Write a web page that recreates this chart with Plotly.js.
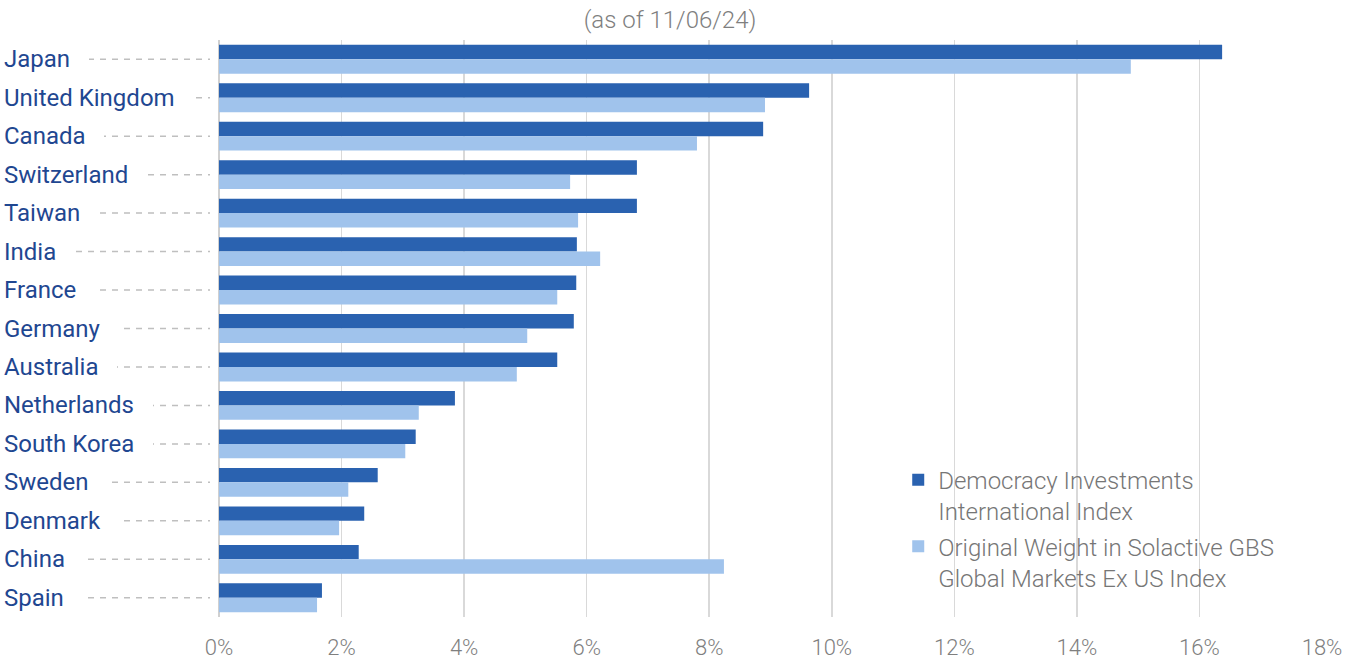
<!DOCTYPE html>
<html>
<head>
<meta charset="utf-8">
<script src="https://cdn.plot.ly/plotly-3.0.1.min.js"></script>
<style>html,body{margin:0;padding:0;background:#fff;}#chart{width:1359px;height:661px;}</style>
</head>
<body>
<div id="chart"></div>
<script>
const countries = ["Japan","United Kingdom","Canada","Switzerland","Taiwan","India","France","Germany","Australia","Netherlands","South Korea","Sweden","Denmark","China","Spain"];
const democracyWeights = [16.37,9.63,8.88,6.82,6.82,5.84,5.83,5.79,5.52,3.85,3.21,2.59,2.37,2.28,1.68];
const solactiveWeights = [14.88,8.91,7.80,5.73,5.86,6.22,5.52,5.03,4.86,3.26,3.04,2.11,1.96,8.24,1.60];
const seriesNames = ["Democracy Investments<br>International Index","Original Weight in Solactive GBS<br>Global Markets Ex US Index"];
const xTicks = [0,2,4,6,8,10,12,14,16,18];
const xTickLabels = xTicks.map(v => v + "%");
const subtitle = "(as of 11/06/24)";

const ML = 219, MR = 37, W = 1359;
const plotW = W - ML - MR;
const labelLeftPx = 4, leaderEndPx = 210;
const NB = "\u00a0";

const traces = [
  {type:"bar", orientation:"h", name:seriesNames[0], legendgroup:"a", y:countries, x:democracyWeights,
   marker:{color:"#2a62b0"}, hoverinfo:"x+y"},
  {type:"bar", orientation:"h", name:seriesNames[1], legendgroup:"b", y:countries, x:solactiveWeights,
   marker:{color:"#a0c3ec"}, hoverinfo:"x+y"}
];

const annotations = countries.map(c => ({
  xref:"paper", yref:"y", x:(labelLeftPx - 1 - ML)/plotW, y:c, xanchor:"left", yanchor:"middle",
  text:c + NB + NB + NB, showarrow:false, bgcolor:"#ffffff", borderpad:1, borderwidth:0,
  font:{family:"Roboto", size:24, color:"#1f4791"}
}));
const shapes = countries.map(c => ({
  type:"line", xref:"paper", yref:"y", x0:(labelLeftPx - ML)/plotW, x1:(leaderEndPx - ML)/plotW, y0:c, y1:c,
  line:{color:"#bfbfbf", width:1.5, dash:"6px,6px"}
}));

const layout = {
  width:1359, height:661,
  margin:{l:ML, r:MR, t:40, b:44},
  paper_bgcolor:"#ffffff", plot_bgcolor:"#ffffff",
  title:{text:subtitle, x:0.493, xref:"container", xanchor:"center", y:0.97, yref:"container", yanchor:"middle",
         font:{family:"Roboto", weight:300, size:24, color:"#7f7f7f"}},
  barmode:"group", bargap:0.25, bargroupgap:0,
  xaxis:{range:[0,18], tickvals:xTicks, ticktext:xTickLabels, showgrid:true, gridcolor:"#d9d9d9", gridwidth:1.5,
         zeroline:true, zerolinecolor:"#d0d0d0", zerolinewidth:2, ticks:"outside", ticklen:11, tickcolor:"rgba(0,0,0,0)", automargin:false,
         tickfont:{family:"Roboto", weight:300, size:22, color:"#7f7f7f"}, fixedrange:true},
  yaxis:{type:"category", autorange:"reversed", showticklabels:false, showgrid:false, zeroline:false, ticks:"", automargin:false, fixedrange:true},
  legend:{x:0.6158, y:0.276, xanchor:"left", yanchor:"top", bgcolor:"rgba(0,0,0,0)", valign:"top",
          font:{family:"Roboto", weight:300, size:24, color:"#767676"}, tracegroupgap:1, itemwidth:30, traceorder:"grouped"},
  annotations:annotations, shapes:shapes,
  showlegend:true
};
Plotly.newPlot("chart", traces, layout, {displayModeBar:false, staticPlot:true});
</script>
</body>
</html>
